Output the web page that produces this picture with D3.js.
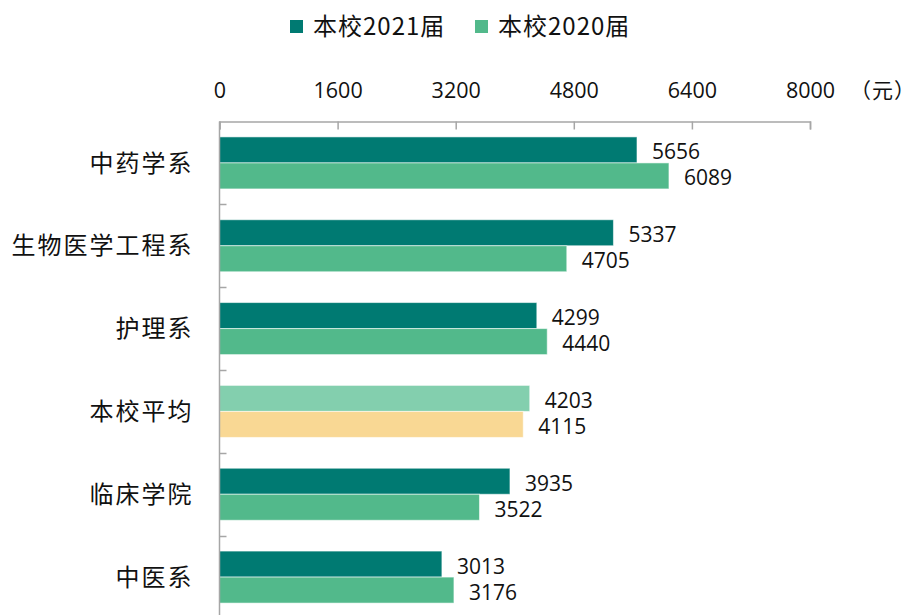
<!DOCTYPE html>
<html>
<head>
<meta charset="utf-8">
<script src="https://cdn.jsdelivr.net/npm/d3@7/dist/d3.min.js"></script>
<style>
  html, body { margin: 0; padding: 0; background: #fff; }
  svg { display: block; }
  text { fill: #111; }
</style>
</head>
<body>
<svg id="chart" width="920" height="615"></svg>
<script>
// Departments, top to bottom
const categories = ["中药学系", "生物医学工程系", "护理系", "本校平均", "临床学院", "中医系"];
// Series names
const seriesNames = ["本校2021届", "本校2020届"];
// Monthly income (元)
const values2021 = [5656, 5337, 4299, 4203, 3935, 3013];
const values2020 = [6089, 4705, 4440, 4115, 3522, 3176];
// Axis ticks
const tickValues = [0, 1600, 3200, 4800, 6400, 8000];
const unitLabel = "（元）";

const colors = { "本校2021届": "#007A72", "本校2020届": "#52B98B" };
const avgColors = { "本校2021届": "#83CFAE", "本校2020届": "#F9D894" };
const avgName = "本校平均";

const svg = d3.select("#chart");
const numFont = "'Open Sans', 'Liberation Sans', sans-serif";
const cjkFont = "'Noto Sans CJK SC', 'Noto Sans', sans-serif";

const plotLeft = 219.5, plotRight = 810, plotTop = 121.5, plotBottom = 618.5;

const x = d3.scaleLinear().domain([0, 8000]).range([plotLeft, plotRight]);
const y = d3.scaleBand().domain(categories).range([plotTop, plotBottom]).padding(0);
const ySub = d3.scaleBand().domain(seriesNames)
  .range([y.bandwidth() * 0.186, y.bandwidth() * 0.814]).padding(0);

const rows = categories.map((c, i) => ({
  cat: c,
  items: [
    { s: seriesNames[0], v: values2021[i] },
    { s: seriesNames[1], v: values2020[i] }
  ]
}));

// Bars
const groups = svg.append("g").selectAll("g").data(rows).join("g")
  .attr("transform", d => `translate(0,${y(d.cat)})`);

groups.selectAll("rect").data(d => d.items.map(it => ({ ...it, cat: d.cat }))).join("rect")
  .attr("x", x(0))
  .attr("y", d => ySub(d.s))
  .attr("width", d => x(d.v) - x(0))
  .attr("height", ySub.bandwidth())
  .attr("fill", d => d.cat === avgName ? avgColors[d.s] : colors[d.s])
  .attr("stroke", "#ffffff")
  .attr("stroke-opacity", 0.55)
  .attr("stroke-width", 1);

// Value labels
groups.selectAll("text.val").data(d => d.items).join("text")
  .attr("class", "val")
  .attr("x", d => x(d.v) + 15)
  .attr("y", d => ySub(d.s) + ySub.bandwidth() / 2 + 2)
  .attr("dy", "0.36em")
  .style("font-family", numFont)
  .style("font-size", "21px")
  .text(d => d.v);

// Top value axis
const xAxis = d3.axisTop(x)
  .tickValues(tickValues)
  .tickSizeInner(-8)
  .tickSizeOuter(-8)
  .tickPadding(24)
  .tickFormat(d3.format("d"));

const gx = svg.append("g").attr("transform", `translate(0,${plotTop})`).call(xAxis);
gx.selectAll("path, line").attr("stroke", "#A6A6A6").attr("stroke-width", 1.5);
gx.selectAll("text")
  .style("font-family", numFont)
  .style("font-size", "21.5px")
  .attr("fill", "#111");

svg.append("text")
  .attr("x", 850)
  .attr("y", plotTop - 24)
  .style("font-family", cjkFont)
  .style("font-size", "21px")
  .style("letter-spacing", "1px")
  .text(unitLabel);

// Category axis: vertical line with ticks at band boundaries
const gy = svg.append("g");
gy.append("line")
  .attr("x1", plotLeft).attr("x2", plotLeft)
  .attr("y1", plotTop).attr("y2", 615)
  .attr("stroke", "#A6A6A6").attr("stroke-width", 1.5);
gy.selectAll("line.bound").data(categories.slice(1)).join("line")
  .attr("class", "bound")
  .attr("x1", plotLeft).attr("x2", plotLeft + 7)
  .attr("y1", d => Math.round(y(d)) + 0.5).attr("y2", d => Math.round(y(d)) + 0.5)
  .attr("stroke", "#A6A6A6").attr("stroke-width", 1.5);
gy.selectAll("text").data(categories).join("text")
  .attr("x", plotLeft - 26)
  .attr("y", d => y(d) + y.bandwidth() / 2)
  .attr("dy", "0.36em")
  .attr("text-anchor", "end")
  .style("font-family", cjkFont)
  .style("font-size", "24px")
  .style("letter-spacing", "2px")
  .text(d => d);

// Legend
const legendPos = [290, 475];
const legend = svg.append("g").selectAll("g").data(seriesNames).join("g")
  .attr("transform", (d, i) => `translate(${legendPos[i]},20)`);
legend.append("rect")
  .attr("width", 13).attr("height", 13)
  .attr("fill", d => colors[d]);
legend.append("text")
  .attr("x", 23).attr("y", 6.5).attr("dy", "0.36em")
  .style("font-family", cjkFont)
  .style("font-size", "24px")
  .style("letter-spacing", "1px")
  .text(d => d);
</script>
</body>
</html>
